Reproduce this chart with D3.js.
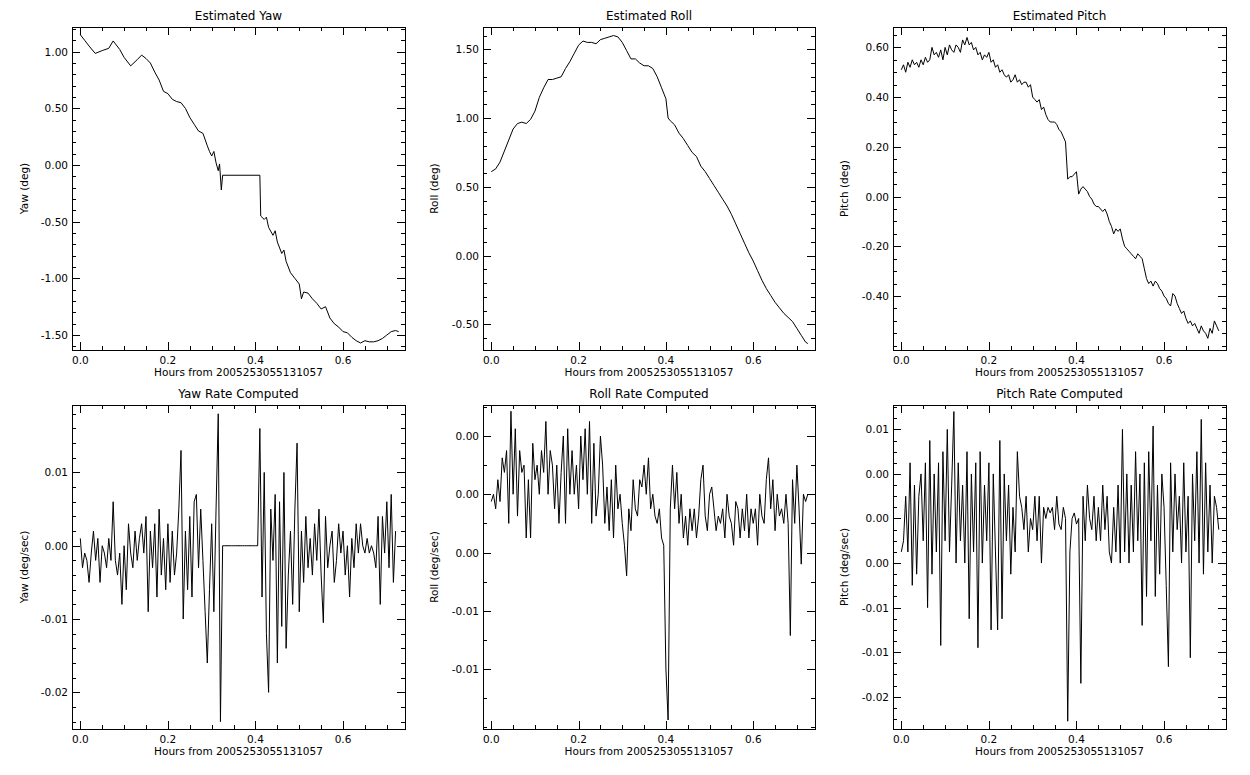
<!DOCTYPE html>
<html><head><meta charset="utf-8">
<script src="https://cdn.jsdelivr.net/npm/d3@7"></script>
<style>body{margin:0;background:#fff}svg{display:block}text{font-family:"DejaVu Sans",sans-serif;fill:#000}</style>
</head><body><svg id="c" width="1250" height="775"></svg>
<script>
const xLabel = "Hours from 2005253055131057";
const xTicks = [0.0, 0.2, 0.4, 0.6];
const xTickLabels = ["0.0", "0.2", "0.4", "0.6"];

// Estimated Yaw (deg)
const yawHours = [0,0.01,0.02,0.034,0.05,0.065,0.075,0.09,0.10,0.115,0.13,0.14,0.15,0.16,0.17,0.18,0.19,0.20,0.21,0.22,0.23,0.24,0.25,0.26,0.27,0.28,0.29,0.295,0.30,0.305,0.31,0.315,0.318,0.322,0.325,0.41,0.412,0.42,0.425,0.43,0.44,0.445,0.45,0.46,0.465,0.47,0.48,0.49,0.50,0.505,0.51,0.52,0.53,0.54,0.55,0.56,0.57,0.58,0.59,0.60,0.61,0.62,0.63,0.64,0.65,0.66,0.67,0.68,0.69,0.70,0.71,0.72,0.727];
const yawDeg = [1.15,1.10,1.05,0.985,1.01,1.03,1.095,1.02,0.95,0.875,0.93,0.97,0.94,0.90,0.82,0.75,0.65,0.63,0.58,0.56,0.55,0.50,0.42,0.36,0.30,0.28,0.17,0.12,0.08,0.12,0.02,-0.05,0.01,-0.22,-0.09,-0.09,-0.45,-0.48,-0.46,-0.55,-0.62,-0.58,-0.68,-0.78,-0.75,-0.85,-0.95,-1.00,-1.05,-1.18,-1.12,-1.13,-1.18,-1.22,-1.27,-1.25,-1.35,-1.40,-1.43,-1.47,-1.48,-1.52,-1.55,-1.57,-1.55,-1.56,-1.56,-1.55,-1.53,-1.50,-1.47,-1.46,-1.47];

// Estimated Roll (deg)
const rollHours = [0,0.01,0.02,0.03,0.04,0.05,0.06,0.07,0.08,0.09,0.10,0.11,0.12,0.13,0.14,0.15,0.16,0.17,0.18,0.19,0.20,0.21,0.22,0.23,0.24,0.25,0.26,0.27,0.28,0.29,0.30,0.31,0.32,0.33,0.34,0.35,0.36,0.37,0.38,0.39,0.40,0.405,0.41,0.42,0.43,0.44,0.45,0.46,0.47,0.48,0.49,0.50,0.51,0.52,0.53,0.54,0.55,0.56,0.57,0.58,0.59,0.60,0.61,0.62,0.63,0.64,0.65,0.66,0.67,0.68,0.69,0.70,0.71,0.72,0.725];
const rollDeg = [0.61,0.63,0.68,0.76,0.84,0.92,0.96,0.97,0.96,0.99,1.05,1.15,1.22,1.28,1.28,1.29,1.30,1.36,1.41,1.47,1.53,1.56,1.55,1.55,1.54,1.57,1.58,1.59,1.60,1.59,1.55,1.49,1.43,1.43,1.40,1.38,1.38,1.36,1.30,1.22,1.14,1.00,0.98,0.95,0.89,0.85,0.80,0.75,0.72,0.65,0.61,0.56,0.51,0.46,0.41,0.36,0.30,0.23,0.16,0.09,0.02,-0.04,-0.11,-0.18,-0.24,-0.29,-0.34,-0.38,-0.42,-0.45,-0.48,-0.53,-0.58,-0.63,-0.64];

// Sample spacing (hours) for the evenly sampled series
const dtHours = 0.005;

// Estimated Pitch (deg), every 0.005 h
const pitchDeg = [0.51,0.53,0.50,0.54,0.52,0.55,0.53,0.54,0.52,0.55,
0.53,0.56,0.54,0.55,0.60,0.57,0.58,0.56,0.59,0.55,
0.60,0.57,0.61,0.59,0.58,0.61,0.60,0.58,0.63,0.61,
0.64,0.61,0.62,0.59,0.60,0.57,0.58,0.55,0.57,0.56,
0.58,0.54,0.55,0.52,0.53,0.50,0.51,0.49,0.48,0.49,
0.46,0.47,0.49,0.46,0.47,0.45,0.46,0.46,0.44,0.45,
0.40,0.39,0.38,0.39,0.35,0.36,0.33,0.31,0.30,0.30,
0.30,0.29,0.27,0.26,0.24,0.22,0.07,0.08,0.08,0.09,
0.10,0.01,0.03,0.04,0.03,0.02,0.00,-0.01,-0.03,-0.04,
-0.04,-0.05,-0.06,-0.05,-0.07,-0.10,-0.12,-0.15,-0.13,-0.14,
-0.13,-0.17,-0.20,-0.21,-0.22,-0.23,-0.24,-0.25,-0.23,-0.24,
-0.25,-0.29,-0.33,-0.35,-0.34,-0.36,-0.34,-0.35,-0.37,-0.38,
-0.40,-0.41,-0.43,-0.44,-0.39,-0.40,-0.43,-0.45,-0.47,-0.46,
-0.49,-0.51,-0.50,-0.52,-0.51,-0.53,-0.55,-0.52,-0.54,-0.55,
-0.57,-0.53,-0.55,-0.50,-0.52,-0.54];

// Yaw rate (deg/sec), every 0.005 h
const yawRate = [0.001,-0.003,-0.001,-0.002,-0.005,-0.001,0.002,-0.002,0.001,-0.005,
0.000,-0.001,-0.003,0.001,-0.002,0.006,-0.002,-0.004,-0.001,-0.008,
0.000,-0.006,0.003,-0.001,-0.003,0.002,-0.002,0.001,0.003,-0.001,
0.004,-0.009,0.002,-0.003,0.003,-0.007,0.005,-0.004,0.001,-0.006,
0.003,-0.005,0.002,-0.004,-0.001,0.005,0.013,-0.010,0.002,-0.006,
0.004,-0.007,0.006,0.007,-0.003,0.005,-0.002,-0.009,-0.016,-0.006,
0.003,-0.009,0.005,0.018,-0.024,0,0,0,0,0,
0,0,0,0,0,0,0,0,0,0,
0,0,0.016,-0.007,0.010,-0.012,-0.020,0.005,-0.002,0.007,
-0.016,0.006,-0.011,0.010,-0.014,-0.004,0.002,-0.008,0.005,0.014,
-0.009,0.002,-0.005,0.004,-0.003,0.001,-0.004,0.003,-0.002,0.005,
-0.004,-0.0105,0.004,-0.003,0.000,0.002,-0.005,-0.002,0.003,-0.001,
0.002,-0.004,0.000,-0.007,0.001,-0.003,0.003,-0.001,0.003,0.000,
-0.001,0.001,-0.001,0.000,-0.001,-0.003,0.004,-0.008,0.004,-0.001,
0.006,-0.003,0.007,-0.005,0.002];

// Roll rate (deg/sec), every 0.005 h
const rollRate = [-0.0005,0,-0.001,0.001,-0.0005,0.0025,0.0015,0.003,-0.002,0.0057,
0,0.0045,-0.0015,0.003,0.0015,0.002,-0.003,0.001,-0.003,0.0035,
0.001,0.002,0,0.003,0.0015,0.005,0,0.003,0.002,-0.001,
0.002,-0.002,0.0015,0.004,-0.002,0.0045,0,0.003,0,0.002,
-0.001,0.004,0.001,0.0045,0,0.005,-0.002,0.0035,-0.0015,0,
0.004,0.002,-0.002,0.0005,-0.0025,0.001,-0.003,0.002,-0.001,0,
-0.002,-0.0035,-0.0056,-0.001,-0.0025,0.001,-0.001,-0.0015,0.001,0.0005,
0.002,0,0.0025,-0.001,0,-0.0015,-0.002,-0.001,-0.003,-0.0035,
-0.012,-0.0155,-0.001,0.002,-0.001,0.0015,-0.002,0,-0.003,-0.0015,
-0.0035,-0.001,-0.0025,-0.001,-0.003,-0.0015,0.001,0.002,-0.0015,-0.0025,
0,0.0005,-0.001,-0.0025,-0.0015,-0.002,-0.001,-0.003,0,-0.0015,
-0.002,-0.0035,-0.0005,-0.001,-0.003,-0.001,-0.0025,0,-0.003,-0.001,
-0.002,-0.001,-0.0035,0,-0.0015,-0.002,0.001,0.0025,-0.001,0.001,
-0.0025,0,-0.0015,-0.001,-0.002,0,-0.002,-0.0097,0.001,-0.002,
0.002,-0.001,-0.0048,0,-0.0005,0];

// Pitch rate (deg/sec), every 0.005 h
const pitchRate = [-0.003,-0.002,0.002,-0.003,0.005,-0.006,0.003,-0.005,0.002,0.004,
-0.002,0.005,-0.008,0.007,-0.005,0.004,-0.003,0.005,-0.0114,0.006,
-0.002,0.008,-0.003,0.003,0.0096,-0.004,0.005,-0.002,0.003,-0.004,
0.006,-0.009,0.004,-0.003,0.005,-0.0116,0.006,-0.004,0.003,-0.002,
0.005,-0.010,0.004,-0.003,-0.010,0.007,-0.009,0.004,-0.002,0.003,
-0.005,0.001,-0.003,0.006,0.002,0.001,-0.001,0.002,-0.003,0.000,
-0.001,0.002,-0.002,0.002,-0.004,0.001,0.000,0.001,0.0005,0.001,
-0.001,0.002,-0.0005,-0.001,0.001,0.000,-0.0182,-0.003,0.000,0.0005,
-0.0005,0.000,-0.0148,0.002,-0.002,0.003,0.000,-0.001,0.002,-0.002,
0.001,-0.002,0.003,-0.001,0.002,-0.003,-0.004,0.001,-0.003,0.003,
-0.004,0.008,-0.003,0.004,-0.004,0.003,-0.003,0.006,-0.002,0.004,
-0.0096,0.005,-0.007,0.006,-0.002,0.0083,-0.007,0.003,-0.005,0.004,
0.001,-0.006,-0.0133,0.005,-0.003,0.004,-0.001,0.002,-0.004,0.005,
-0.003,0.002,-0.0125,0.004,-0.002,0.006,-0.004,0.0089,-0.005,0.005,
-0.003,0.003,-0.004,0.002,0.001,-0.001];

const panels = [
 {title:"Estimated Yaw", ylab:"Yaw (deg)", hours:yawHours, vals:yawDeg, box:[72,405,27,350], yd:[-1.632,1.218],
  yt:[-1.5,-1.0,-0.5,0,0.5,1.0], ytl:["-1.50","-1.00","-0.50","0.00","0.50","1.00"], ym:0.1, ylx:28},
 {title:"Estimated Roll", ylab:"Roll (deg)", hours:rollHours, vals:rollDeg, box:[483,815,27,350], yd:[-0.687,1.662],
  yt:[-0.5,0,0.5,1.0,1.5], ytl:["-0.50","0.00","0.50","1.00","1.50"], ym:0.1, ylx:438},
 {title:"Estimated Pitch", ylab:"Pitch (deg)", vals:pitchDeg, box:[893,1226,27,350], yd:[-0.617,0.682],
  yt:[-0.4,-0.2,0,0.2,0.4,0.6], ytl:["-0.40","-0.20","0.00","0.20","0.40","0.60"], ym:0.05, ylx:848},
 {title:"Yaw Rate Computed", ylab:"Yaw (deg/sec)", vals:yawRate, box:[72,405,405,729], yd:[-0.025,0.0192],
  yt:[-0.02,-0.01,0,0.01], ytl:["-0.02","-0.01","0.00","0.01"], ym:0.002, ylx:28},
 {title:"Roll Rate Computed", ylab:"Roll (deg/sec)", vals:rollRate, box:[483,815,405,729], yd:[-0.01612,0.00613],
  yt:[-0.012,-0.008,-0.004,0,0.004], ytl:["-0.01","-0.01","0.00","0.00","0.00"], ym:0.002, ylx:438},
 {title:"Pitch Rate Computed", ylab:"Pitch (deg/sec)", vals:pitchRate, box:[893,1226,405,729], yd:[-0.0189,0.01019],
  yt:[-0.016,-0.012,-0.008,-0.004,0,0.004,0.008], ytl:["-0.02","-0.01","-0.01","0.00","0.00","0.00","0.01"], ym:0.001, ylx:848}
];

const svg = d3.select("#c");
const xDom = [-0.019, 0.7415];
panels.forEach(p => {
  const [l,r,t,b] = p.box;
  const x = d3.scaleLinear().domain(xDom).range([l,r]);
  const y = d3.scaleLinear().domain(p.yd).range([b,t]);
  const g = svg.append("g");
  const xMinor = d3.range(0, 0.7401, 0.05);
  const yMinor = d3.range(Math.ceil(p.yd[0]/p.ym - 1e-6)*p.ym, p.yd[1], p.ym);
  const ax = (axisFn, scale, vals, len, tx, ty) => {
    const a = g.append("g").attr("transform",`translate(${tx},${ty})`)
      .call(axisFn(scale).tickValues(vals).tickSize(len).tickFormat(""));
    a.select(".domain").remove();
    a.selectAll("line").attr("shape-rendering","crispEdges");
  };
  ax(d3.axisTop, x, xMinor, 4, 0, b); ax(d3.axisTop, x, xTicks, 8, 0, b);
  ax(d3.axisBottom, x, xMinor, 4, 0, t); ax(d3.axisBottom, x, xTicks, 8, 0, t);
  ax(d3.axisRight, y, yMinor, 4, l, 0); ax(d3.axisRight, y, p.yt, 8, l, 0);
  ax(d3.axisLeft, y, yMinor, 4, r, 0); ax(d3.axisLeft, y, p.yt, 8, r, 0);
  g.append("rect").attr("x",l+0.5).attr("y",t+0.5).attr("width",r-l).attr("height",b-t)
    .attr("fill","none").attr("stroke","#000").attr("shape-rendering","crispEdges");
  xTicks.forEach((v,i)=>g.append("text").attr("x",x(v)).attr("y",b+14).attr("text-anchor","middle")
    .attr("font-size",10.5).text(xTickLabels[i]));
  p.yt.forEach((v,i)=>g.append("text").attr("x",l-4).attr("y",y(v)+4).attr("text-anchor","end")
    .attr("font-size",10.5).text(p.ytl[i]));
  g.append("text").attr("x",(l+r)/2).attr("y",t-7).attr("text-anchor","middle").attr("font-size",12).text(p.title);
  g.append("text").attr("x",(l+r)/2).attr("y",b+26).attr("text-anchor","middle").attr("font-size",10.5).text(xLabel);
  g.append("text").attr("transform",`translate(${p.ylx},${(t+b)/2}) rotate(-90)`).attr("text-anchor","middle")
    .attr("font-size",10.5).text(p.ylab);
  const data = p.vals.map((v,i)=>[p.hours ? p.hours[i] : i*dtHours, v]);
  const lg = d3.line().x(d=>x(d[0])).y(d=>y(d[1]));
  g.append("path").datum(data).attr("d",lg).attr("fill","none").attr("stroke","#000").attr("stroke-width",1);
});
</script></body></html>
